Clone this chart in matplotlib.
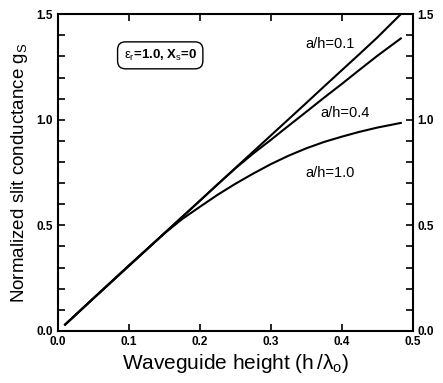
import matplotlib
matplotlib.use("Agg")
import matplotlib.pyplot as plt
from matplotlib.ticker import MultipleLocator, FuncFormatter

plt.rcParams['font.family'] = ['Liberation Sans', 'DejaVu Sans']
plt.rcParams['mathtext.fontset'] = 'custom'
plt.rcParams['mathtext.rm'] = 'Liberation Sans'
plt.rcParams['mathtext.it'] = 'Liberation Sans'
plt.rcParams['mathtext.bf'] = 'Liberation Sans:bold'

x = [0.01, 0.05, 0.1, 0.15, 0.175, 0.2, 0.225, 0.25, 0.275, 0.3, 0.325,
     0.35, 0.375, 0.4, 0.425, 0.45, 0.483]
g_01 = [0.03, 0.154, 0.308, 0.463, 0.54, 0.617, 0.694, 0.772, 0.849, 0.926,
        1.003, 1.08, 1.158, 1.235, 1.312, 1.39, 1.50]
g_04 = [0.03, 0.155, 0.31, 0.463, 0.54, 0.617, 0.695, 0.77, 0.84, 0.905,
        0.972, 1.038, 1.105, 1.17, 1.237, 1.303, 1.385]
g_10 = [0.03, 0.155, 0.31, 0.462, 0.53, 0.588, 0.645, 0.697, 0.745, 0.79,
        0.83, 0.865, 0.895, 0.92, 0.943, 0.963, 0.985]
labels = ["a/h=0.1", "a/h=0.4", "a/h=1.0"]
label_pos = [(0.348, 1.36), (0.369, 1.03), (0.348, 0.75)]

fig = plt.figure(figsize=(4.43, 3.83), dpi=100)
ax = fig.add_axes([0.131, 0.136, 0.801, 0.827])
for g in (g_01, g_04, g_10):
    ax.plot(x, g, color='black', lw=1.5)

for t, (px, py) in zip(labels, label_pos):
    ax.text(px, py, t, fontsize=10.5, va='center', ha='left')

ax.text(0.144, 1.305, r"$\epsilon_r$=1.0, X$_s$=0", fontsize=9.5, fontweight='bold',
        ha='center', va='center',
        bbox=dict(boxstyle='round,pad=0.45,rounding_size=0.6', fc='white', ec='black', lw=1.0))

ax.set_xlim(0, 0.5)
ax.set_ylim(0, 1.5)
ax.xaxis.set_major_locator(MultipleLocator(0.1))
ax.yaxis.set_major_locator(MultipleLocator(0.5))
ax.yaxis.set_minor_locator(MultipleLocator(0.1))
ax.xaxis.set_major_formatter(FuncFormatter(lambda v, p: f"{v:.1f}"))
ax.yaxis.set_major_formatter(FuncFormatter(lambda v, p: f"{v:.1f}"))
ax.tick_params(which='both', direction='in', top=True, right=True, labelright=True,
               width=1.2, labelsize=8.5, length=5)
for lab in ax.xaxis.get_ticklabels() + ax.yaxis.get_ticklabels():
    lab.set_fontweight('bold')
for s in ax.spines.values():
    s.set_linewidth(1.5)

ax.set_xlabel(r"Waveguide height (h$\,$/$\lambda_o$)", fontsize=15, labelpad=3)
ax.set_ylabel(r"Normalized slit conductance g$_S$", fontsize=13.5, labelpad=5)

fig.savefig("out.png", dpi=100)
